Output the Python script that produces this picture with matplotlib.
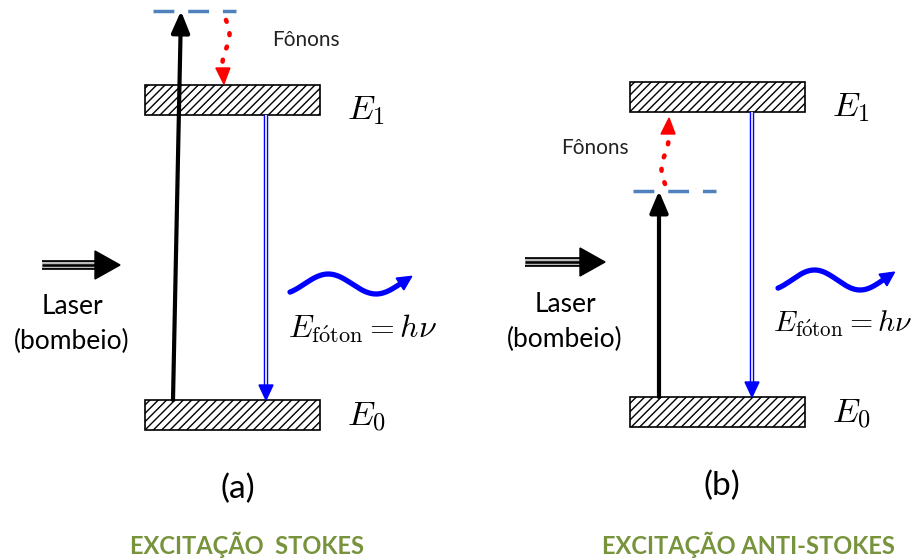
import numpy as np
import matplotlib
matplotlib.use("Agg")
import matplotlib.pyplot as plt
from matplotlib.patches import Rectangle, Polygon

plt.rcParams['mathtext.fontset'] = 'cm'
plt.rcParams['hatch.linewidth'] = 1.0

# ---- diagram data (pixel layout of the reference) ----
panels = ["(a)", "(b)"]
titles = ["EXCITAÇÃO  STOKES", "EXCITAÇÃO ANTI-STOKES"]
level_labels = [r"$E_1$", r"$E_0$"]
phonon_label = "Fônons"
laser_label = ["Laser", "(bombeio)"]
photon_label = r"$E_{\mathrm{f\acute{o}ton}} = h\nu$"

box_x = [145, 630]          # left edge of level boxes
box_w = 175
box_h = 30
E1_top = [85, 82]
E0_top = [400, 397]
virt_y = [11, 191]          # virtual level (dashed)
virt_x = [(153, 236), (633, 716)]
pump_x = [(173, 181), (659, 659)]
emit_x = [266, 752]
laser_x = [(42, 120), (525, 605)]
laser_y = [265, 262]
laser_text_x = [72, 565]
laser_text_y = [(307, 341), (304, 339)]
wave_x = [(290, 412), (778, 895)]
wave_y = [284, 280]
photon_text = [(363, 329), (843, 324)]
photon_size = [23, 21.5]
E_label_x = [347, 832]
phonon_text = [(306, 40), (595, 148)]
phonon_path = [(226, 20, 84), (665, 184, 118)]   # x, y_start, y_tip
panel_text = [(238, 489), (722, 486)]
title_pos = [(247, 545), (748, 545)]

fig = plt.figure(figsize=(9.18, 5.6), dpi=100)
ax = fig.add_axes([0, 0, 1, 1])
ax.set_xlim(0, 918)
ax.set_ylim(560, 0)
ax.axis('off')

green = '#77933C'
blue = '#0000FF'
dash_blue = '#4F81BD'

for i in range(2):
    # level boxes
    for top in (E1_top[i], E0_top[i]):
        ax.add_patch(Rectangle((box_x[i], top), box_w, box_h, facecolor='white',
                               edgecolor='black', hatch='////', lw=1.2, zorder=2))
    # level labels
    ax.text(E_label_x[i], E1_top[i] + 25, level_labels[0], fontsize=25, ha='left', va='center')
    ax.text(E_label_x[i], E0_top[i] + 17, level_labels[1], fontsize=25, ha='left', va='center')

    # virtual level
    ax.plot(virt_x[i], [virt_y[i]] * 2, color=dash_blue, lw=2.5, dashes=(6, 4), zorder=3)

    # pump arrow
    x0, x1 = pump_x[i]
    ax.annotate('', xy=(x1, virt_y[i]), xytext=(x0, E0_top[i]),
                arrowprops=dict(arrowstyle='-|>,head_length=1.3,head_width=0.55',
                                color='black', lw=3, shrinkA=0, shrinkB=0), zorder=4)

    # emission double-line arrow
    ex = emit_x[i]
    y_start = E1_top[i] + box_h
    y_head = E0_top[i] - 15
    ax.plot([ex, ex], [y_start, y_head], color=blue, lw=3.2, solid_capstyle='butt', zorder=3)
    ax.plot([ex, ex], [y_start, y_head], color='white', lw=1.2, solid_capstyle='butt', zorder=3)
    ax.add_patch(Polygon([(ex - 7, y_head), (ex + 7, y_head), (ex, E0_top[i])],
                         closed=True, color=blue, zorder=3))

    # phonon dotted arrow
    px, ys, yt = phonon_path[i]
    sign = 1 if yt > ys else -1
    yy = np.linspace(ys, yt - sign * 16, 40)
    xx = px + 3.5 * np.sin((yy - ys) / abs(yt - ys) * 2.2 * np.pi)
    ax.plot(xx, yy, color='red', lw=3.3, linestyle=(0, (0.4, 2.6)), dash_capstyle='round', zorder=4)
    hb = yt - sign * 16
    hx = xx[-1]
    ax.add_patch(Polygon([(hx - 7, hb), (hx + 7, hb), (hx + 1, yt)], closed=True,
                         color='red', zorder=4))
    ax.text(phonon_text[i][0], phonon_text[i][1], phonon_label, fontsize=15,
            family='Lato', ha='center', va='center', color='#222222')

    # laser arrow (triple line)
    lx0, lx1 = laser_x[i]
    ly = laser_y[i]
    shaft_end = lx1 - 25
    ax.plot([lx0, shaft_end], [ly, ly], color='black', lw=7, solid_capstyle='butt', zorder=3)
    ax.plot([lx0, shaft_end], [ly, ly], color='#BBBBBB', lw=4.4, solid_capstyle='butt', zorder=3)
    ax.plot([lx0, shaft_end], [ly, ly], color='black', lw=1.8, solid_capstyle='butt', zorder=3)
    ax.add_patch(Polygon([(shaft_end, ly - 14), (shaft_end, ly + 14), (lx1, ly)],
                         closed=True, color='black', zorder=3))
    ax.text(laser_text_x[i], laser_text_y[i][0], laser_label[0], fontsize=19,
            family='Lato', ha='center', va='center')
    ax.text(laser_text_x[i], laser_text_y[i][1], laser_label[1], fontsize=19,
            family='Lato', ha='center', va='center')

    # photon wave
    wx0, wx1 = wave_x[i]
    xw = np.linspace(wx0, wx1 - 12, 200)
    t = (xw - wx0) / (wx1 - 12 - wx0)
    yw = wave_y[i] + 10 * np.sin(2 * np.pi * 1.15 * t - 0.3 * np.pi) * -1
    ax.plot(xw, yw, color=blue, lw=3.8, solid_capstyle='round', zorder=3)
    ang = np.arctan2(yw[-1] - yw[-6], xw[-1] - xw[-6])
    tipx, tipy = xw[-1] + 14 * np.cos(ang), yw[-1] + 14 * np.sin(ang)
    nx, ny = -np.sin(ang), np.cos(ang)
    ax.add_patch(Polygon([(xw[-1] + 7 * nx, yw[-1] + 7 * ny), (xw[-1] - 7 * nx, yw[-1] - 7 * ny),
                          (tipx, tipy)], closed=True, color=blue, zorder=3))
    ax.text(photon_text[i][0], photon_text[i][1], photon_label, fontsize=photon_size[i],
            ha='center', va='center')

    # panel label and title
    ax.text(panel_text[i][0], panel_text[i][1], panels[i], fontsize=24,
            family='Lato', ha='center', va='center')
    ax.text(title_pos[i][0], title_pos[i][1], titles[i], fontsize=17, fontweight='bold',
            family='Lato', color=green, ha='center', va='center')

fig.savefig('out.png', dpi=100)
